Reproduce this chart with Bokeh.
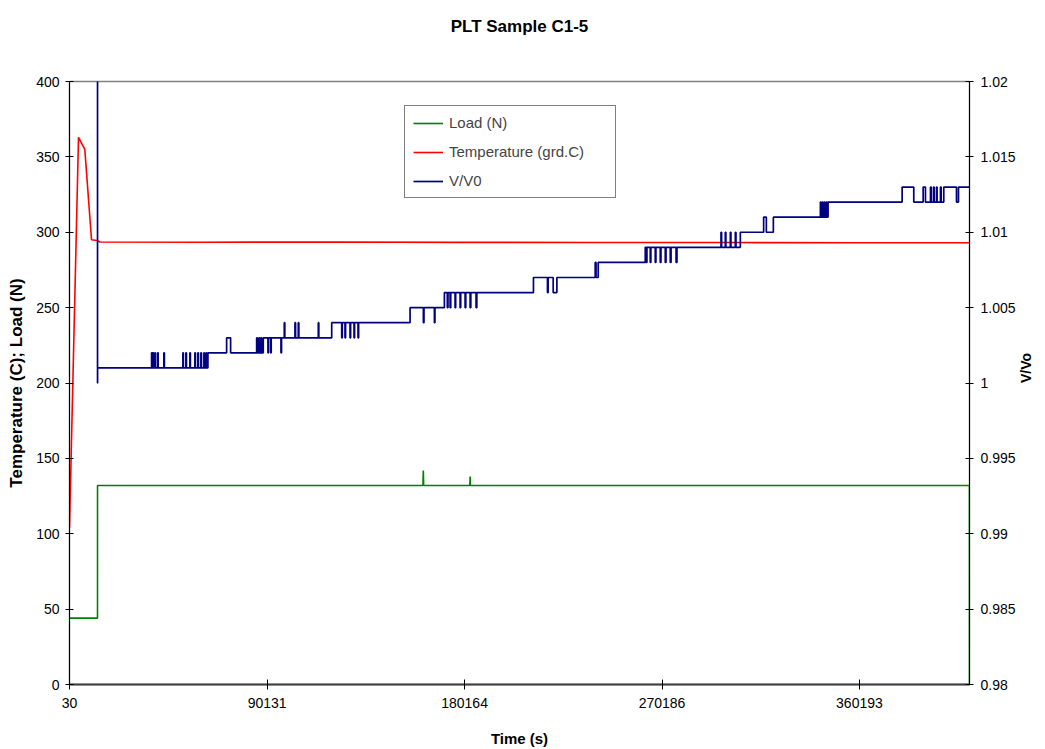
import math
from bokeh.plotting import figure
from bokeh.models import Range1d, LinearAxis, FixedTicker, Legend, LegendItem, Title
from bokeh.embed import file_html
from bokeh.resources import INLINE

# ---------------- data ----------------
time_temp = [30, 4140, 7010, 10070, 12490, 14000, 60000, 120000, 180000, 240000, 300000, 360000, 410380]
temp = [104, 363, 355, 295, 294.5, 293.5, 293.4, 293.5, 293.3, 293.2, 293.2, 293.0, 293.0]

time_load = [30, 12800, 12810, 161200, 161350, 161500, 182550, 182690, 182830, 410360, 410380]
load = [44, 44, 132, 132, 142, 132, 132, 138, 132, 132, 0]

time_v = [
    12800, 12810, 12830,
    37450, 37700, 38040, 38300, 38950, 39200, 40200, 40460, 43060, 43300,
    51730, 51950, 53100, 53350, 54920, 55150, 57200, 57450, 58570, 58800,
    59940, 60200, 61310, 61550, 62300, 62550, 63140,
    71670, 73490,
    85360, 85700, 86410, 86700, 87320, 87600, 88370,
    90510, 90750, 91750, 92000, 96450, 96700,
    97950, 98200, 102830, 103100, 104340, 104600, 113470, 113700, 119580,
    124140, 124400, 125650, 125900, 127930, 128200, 129760, 130000, 131580, 131850,
    155310, 161380, 161650, 166400, 166650,
    170960, 172300, 172600, 173560, 173850, 175840, 176100, 178120, 178400,
    180410, 180700, 182690, 183000, 185400, 185740,
    211570, 217960, 218250, 220560, 222250,
    239720, 240100, 241090,
    262540, 263000, 263300, 264820, 265100, 267100, 267400, 269380, 269700,
    271670, 272000, 273950, 274300, 276600, 277000,
    297080, 297350, 299040, 299300, 301330, 301600, 303610, 303900, 305890,
    316520, 317750, 320950,
    342390, 342700, 343300, 343600, 344220, 344500, 345130, 345400, 345900,
    379670, 384970, 389250, 390300, 392590, 392900, 393950, 394250,
    395320, 395600, 397150, 397450, 398650,
    404450, 405360, 410380,
]
vv = [
    1.03, 1.000, 1.001,
    1.002, 1.001, 1.002, 1.001, 1.002, 1.001, 1.002, 1.001, 1.002, 1.001,
    1.002, 1.001, 1.002, 1.001, 1.002, 1.001, 1.002, 1.001, 1.002, 1.001,
    1.002, 1.001, 1.002, 1.001, 1.002, 1.001, 1.002,
    1.003, 1.002,
    1.003, 1.002, 1.003, 1.002, 1.003, 1.002, 1.003,
    1.002, 1.003, 1.002, 1.003, 1.002, 1.003,
    1.004, 1.003, 1.004, 1.003, 1.004, 1.003, 1.004, 1.003, 1.004,
    1.003, 1.004, 1.003, 1.004, 1.003, 1.004, 1.003, 1.004, 1.003, 1.004,
    1.005, 1.004, 1.005, 1.004, 1.005,
    1.006, 1.005, 1.006, 1.005, 1.006, 1.005, 1.006, 1.005, 1.006,
    1.005, 1.006, 1.005, 1.006, 1.005, 1.006,
    1.007, 1.006, 1.007, 1.006, 1.007,
    1.008, 1.007, 1.008,
    1.009, 1.008, 1.009, 1.008, 1.009, 1.008, 1.009, 1.008, 1.009,
    1.008, 1.009, 1.008, 1.009, 1.008, 1.009,
    1.010, 1.009, 1.010, 1.009, 1.010, 1.009, 1.010, 1.009, 1.010,
    1.011, 1.010, 1.011,
    1.012, 1.011, 1.012, 1.011, 1.012, 1.011, 1.012, 1.011, 1.012,
    1.013, 1.012, 1.013, 1.012, 1.013, 1.012, 1.013, 1.012,
    1.013, 1.012, 1.013, 1.012, 1.013,
    1.012, 1.013, 1.013,
]

x_ticks = [30, 90131, 180164, 270186, 360193]
left_ticks = [0, 50, 100, 150, 200, 250, 300, 350, 400]
right_ticks = [0.98, 0.985, 0.99, 0.995, 1.0, 1.005, 1.01, 1.015, 1.02]
right_tick_labels = ["0.98", "0.985", "0.99", "0.995", "1", "1.005", "1.01", "1.015", "1.02"]

FONT = "Liberation Sans"

p = figure(width=1045, height=749, output_backend="svg", toolbar_location=None,
           x_range=Range1d(30, 410380), y_range=Range1d(0, 400),
           min_border_left=69, min_border_right=76, min_border_top=81, min_border_bottom=65,
           background_fill_color="white", border_fill_color="white")
p.extra_y_ranges = {"v": Range1d(0.98, 1.02)}
p.grid.visible = False
p.outline_line_color = "#808080"
p.outline_line_width = 1.5

# real title (outermost panel) with a blank spacer title between it and the frame
p.title.text = "PLT Sample C1-5"
p.title.align = "center"
p.title.offset = 18
p.title.standoff = 26
p.title.text_font = FONT
p.title.text_font_size = "17px"
p.title.text_font_style = "bold"
p.title.text_color = "black"
spacer = Title(text=" ", text_font_size="10px", standoff=20)
p.add_layout(spacer, "above")

r_load = p.line(time_load, load, line_color="#008000", line_width=1.6)
r_temp = p.line(time_temp, temp, line_color="#FF0000", line_width=1.6)
r_v = p.step(time_v, vv, mode="after", line_color="#000080", line_width=1.7, y_range_name="v")

# axes
xa = p.xaxis[0]
xa.ticker = FixedTicker(ticks=x_ticks)
xa.major_label_overrides = {t: str(t) for t in x_ticks}
xa.axis_label = "Time (s)"
xa.axis_line_color = "#404040"
xa.axis_line_width = 2
xa.major_tick_in = 5
xa.major_tick_out = 5
xa.major_tick_line_color = "black"
xa.minor_tick_line_color = None
xa.major_label_standoff = 8
xa.axis_label_standoff = 19

ya = p.yaxis[0]
ya.ticker = FixedTicker(ticks=left_ticks)
ya.axis_label = "Temperature (C); Load (N)"
ya.axis_line_color = "black"
ya.major_tick_in = 4
ya.major_tick_out = 4
ya.minor_tick_line_color = None
ya.major_label_standoff = 6
ya.axis_label_standoff = 7

ra = LinearAxis(y_range_name="v", ticker=FixedTicker(ticks=right_ticks),
                major_label_overrides=dict(zip(right_ticks, right_tick_labels)),
                axis_label="V/Vo")
ra.axis_line_color = "black"
ra.major_tick_in = 4
ra.major_tick_out = 4
ra.minor_tick_line_color = None
ra.major_label_standoff = 7
ra.axis_label_standoff = 7
ra.axis_label_orientation = math.pi / 2
p.add_layout(ra, "right")

for ax in (xa, ya, ra):
    ax.major_label_text_font = FONT
    ax.major_label_text_font_size = "14px"
    ax.major_label_text_color = "black"
    ax.axis_label_text_font = FONT
    ax.axis_label_text_font_style = "bold"
    ax.axis_label_text_font_size = "15px"
    ax.axis_label_text_color = "black"
ya.axis_label_text_font_size = "17px"
ra.axis_label_text_font_size = "14px"

legend = Legend(items=[LegendItem(label="Load (N)", renderers=[r_load]),
                       LegendItem(label="Temperature (grd.C)", renderers=[r_temp]),
                       LegendItem(label="V/V0", renderers=[r_v])],
                location=(335, 486))
legend.border_line_color = "black"
legend.border_line_width = 1
legend.background_fill_color = "white"
legend.background_fill_alpha = 1
legend.label_text_font = FONT
legend.label_text_font_size = "15px"
legend.glyph_width = 30
legend.glyph_height = 16
legend.label_height = 16
legend.label_width = 158
legend.spacing = 12
legend.padding = 8
legend.label_standoff = 6
legend.margin = 0
p.add_layout(legend, "center")

open("out.html", "w").write(file_html(p, INLINE))
